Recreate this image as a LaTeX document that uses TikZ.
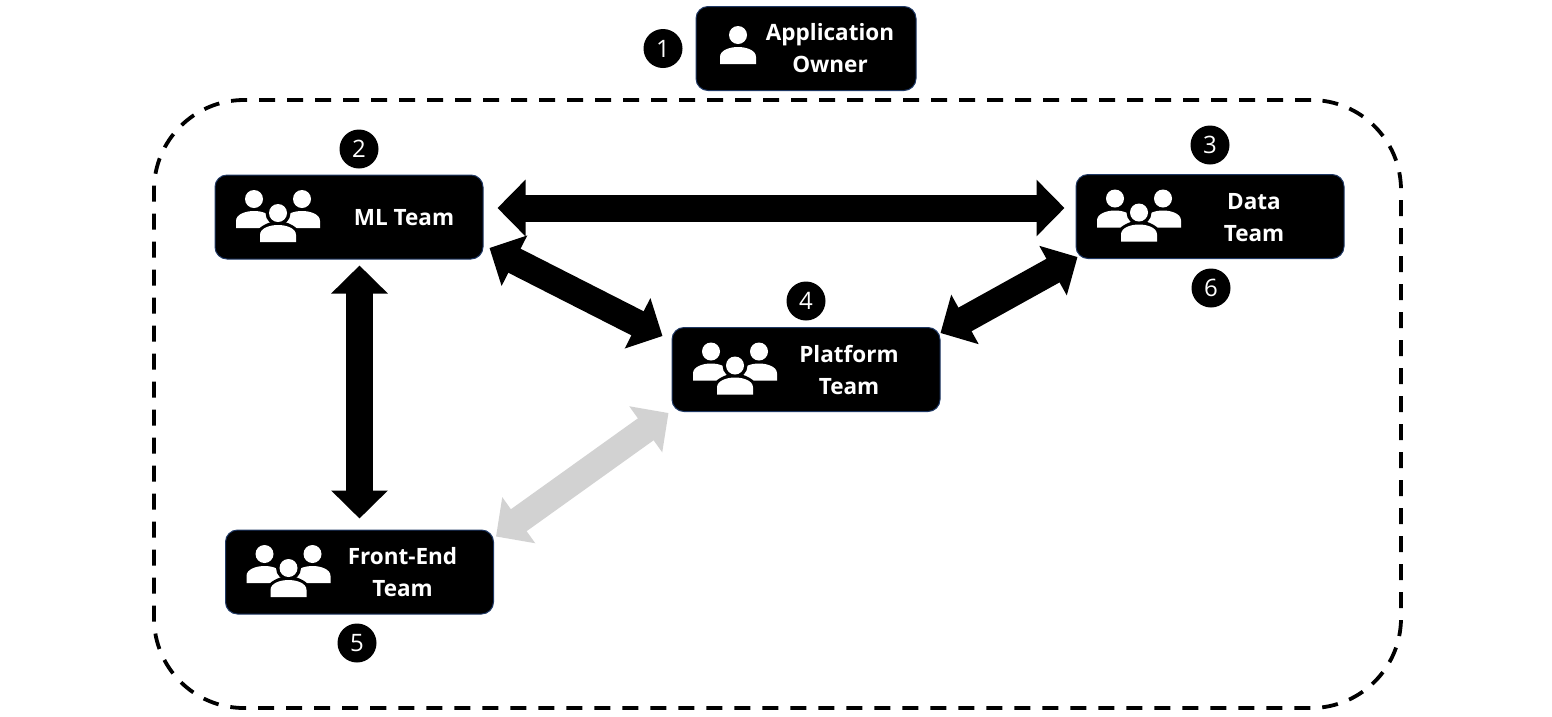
\documentclass[tikz,border=0pt]{standalone}
\usepackage{fontspec}
\setmainfont{Open Sans}
\usetikzlibrary{arrows.meta,positioning}

\definecolor{boxedge}{HTML}{1F3864}
\definecolor{fadedlink}{HTML}{D2D2D2}

\tikzset{
  x=1pt,y=-1pt,
  every node/.style={font=\fontsize{24}{32}\selectfont},
  teambox/.style={rectangle,draw=boxedge,fill=black,rounded corners=12pt,line width=1pt,
    minimum width=268pt,minimum height=84pt,inner sep=0pt},
  ownerbox/.style={teambox,minimum width=220pt},
  boxtext/.style={text=white,align=center,font=\fontsize{22.5}{32}\selectfont\bfseries,inner sep=0pt},
  badge/.style={circle,fill=black,text=white,minimum size=39pt,inner sep=0pt},
  link/.style={line width=27pt,{Triangle[length=28pt,width=55pt]}-{Triangle[length=28pt,width=55pt]}},
  faded link/.style={link,draw=fadedlink},
  person/.pic={
    \fill[white] (0,0) circle (9);
    \fill[white] (-18,29) -- (-18,22) .. controls (-18,15) and (-8,12) .. (0,12)
      .. controls (8,12) and (18,15) .. (18,22) -- (18,29) -- cycle;
  },
  team/.pic={
    \pic at (-24,-18) {person};
    \pic at (24,-18) {person};
    \fill[black] (0,-4) circle (12.5);
    \fill[black] (-22,29) -- (-22,18) .. controls (-22,10) and (-8,4) .. (0,4)
      .. controls (8,4) and (22,10) .. (22,18) -- (22,29) -- cycle;
    \pic at (0,-4) {person};
  }
}

\begin{document}
\begin{tikzpicture}[on grid]
  \useasboundingbox (0,0) rectangle (1552,716);

  % Outer boundary
  \node (boundary) [draw,line width=3.8pt,rounded corners=90pt,dash pattern=on 16pt off 12pt,
    minimum width=1247pt,minimum height=608pt,inner sep=0pt] at (777.5,404) {};

  % Boxes
  \node [ownerbox,label={[boxtext,xshift=24pt]center:Application\\Owner}] (owner) at (806,48.5) {};
  \node [teambox,label={[boxtext,xshift=43pt]center:Platform\\Team}] (platform) [below=321pt of owner] {};
  \node [teambox,label={[boxtext,xshift=55pt,yshift=-1pt]center:ML Team}] (ml) at (349,217) {};
  \node [teambox,label={[boxtext,xshift=44pt,yshift=-1pt]center:Data\\Team}] (data) at (1210,216.5) {};
  \node [teambox,label={[boxtext,xshift=43pt]center:Front-End\\Team}] (frontend) [below=355pt of ml,xshift=10.5pt] {};

  % Numbers
  \node [badge] (n1) [left=143pt of owner] {1};
  \node [badge] (n2) [above=68pt of ml,xshift=10pt] {2};
  \node [badge] (n3) [above=71.5pt of data] {3};
  \node [badge] (n4) [above=68.5pt of platform] {4};
  \node [badge] (n5) [below=71pt of frontend,xshift=-2.5pt] {5};
  \node [badge] (n6) [below=71.5pt of data,xshift=1pt] {6};

  % Icons
  \pic at (738,35) {person};
  \pic at ([xshift=-71pt]platform.center) {team};
  \pic at ([xshift=-71pt]ml.center) {team};
  \pic at ([xshift=-71pt]data.center) {team};
  \pic at ([xshift=-71pt]frontend.center) {team};

  % Links
  \draw [link] ([xshift=14pt,yshift=9pt]ml.east) -- ([xshift=-11pt,yshift=8.5pt]data.west);
  \draw [link] ([yshift=-6pt]ml.south -| frontend.north) -- ([yshift=11pt]frontend.north);
  \draw [link] ([xshift=6pt,yshift=-31pt]ml.east) -- ([xshift=-9pt,yshift=33.5pt]platform.west);
  \draw [link] ([yshift=36.5pt]platform.east) -- ([xshift=2pt,yshift=-40.5pt]data.west);
  \draw [faded link] ([xshift=-3pt,yshift=-1pt]platform.south west) -- ([xshift=2pt,yshift=-7pt]frontend.north east);
\end{tikzpicture}
\end{document}
